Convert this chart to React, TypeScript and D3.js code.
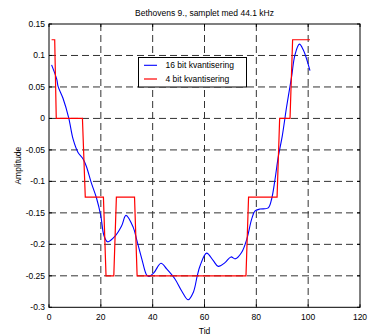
import React from "react";
import * as d3 from "d3";

const title = "Bethovens 9., samplet med 44.1 kHz";
const xLabel = "Tid";
const yLabel = "Amplitude";
const seriesNames = ["16 bit kvantisering", "4 bit kvantisering"];

const xTicks = [0, 20, 40, 60, 80, 100, 120];
const yTicks = [0.15, 0.1, 0.05, 0, -0.05, -0.1, -0.15, -0.2, -0.25, -0.3];
const yTickLabels = ["0.15", "0.1", "0.05", "0", "-0.05", "-0.1", "-0.15", "-0.2", "-0.25", "-0.3"];

// 16 bit signal
const blueX = [1, 3, 3.5, 5.4, 7.6, 9.3, 11.2, 13.1, 14.4, 16.3, 18.3, 20, 21.2, 22.6, 25.5, 28, 29.7, 32.5, 33.8, 35.8, 37.7, 38.6, 40.5, 43.2, 45.4, 48.6, 51.2, 53.7, 55.7, 57.2, 58.3, 60.8, 63.4, 65.3, 67.9, 70.2, 71.9, 74.3, 76.3, 78.2, 79.5, 81.4, 84.6, 85.9, 87.2, 88.5, 90, 91.7, 93.6, 94.9, 96.6, 98.1, 100.7];
const blueY = [0.085, 0.062, 0.051, 0.032, 0.001, -0.033, -0.054, -0.064, -0.076, -0.102, -0.126, -0.155, -0.186, -0.196, -0.187, -0.171, -0.154, -0.173, -0.192, -0.223, -0.249, -0.251, -0.245, -0.23, -0.239, -0.255, -0.274, -0.288, -0.276, -0.25, -0.234, -0.214, -0.226, -0.235, -0.229, -0.22, -0.223, -0.213, -0.192, -0.16, -0.147, -0.144, -0.142, -0.128, -0.097, -0.06, -0.028, 0.019, 0.066, 0.101, 0.118, 0.109, 0.076];

// 4 bit quantized signal
const redX = [1, 2.2, 2.8, 12.9, 14, 21, 22, 25, 26, 33, 34, 76, 77, 88, 89, 93, 94, 100.7];
const redY = [0.125, 0.125, 0, 0, -0.125, -0.125, -0.25, -0.25, -0.125, -0.125, -0.25, -0.25, -0.125, -0.125, 0, 0, 0.125, 0.125];

const W = 368;
const H = 334;
const L = 49, R = 360, T = 24, B = 307.3;
const font = "'Liberation Sans', Arial, Helvetica, sans-serif";
const fs = 8.5;

export default function App() {
  const x = d3.scaleLinear().domain([0, 120]).range([L, R]);
  const y = d3.scaleLinear().domain([-0.3, 0.15]).range([B, T]);

  const blue = blueX.map((v, i) => [v, blueY[i]] as [number, number]);
  const red = redX.map((v, i) => [v, redY[i]] as [number, number]);

  const smooth = d3.line<[number, number]>().x(d => x(d[0])).y(d => y(d[1])).curve(d3.curveCatmullRom.alpha(0.5));
  const straight = d3.line<[number, number]>().x(d => x(d[0])).y(d => y(d[1]));

  const grid = "#333";
  const dash = "7,4";
  const tl = 3;

  return (
    <svg width={W} height={H} style={{ position: "absolute", left: 0, top: 0, background: "#fff" }} fontFamily={font}>
      <rect x={0} y={0} width={W} height={H} fill="#fff" />
      {/* grid */}
      {xTicks.filter(t => t > 0 && t < 120).map(t => (
        <line key={"gx" + t} x1={x(t)} x2={x(t)} y1={T} y2={B} stroke={grid} strokeDasharray={dash} strokeWidth={1} />
      ))}
      {yTicks.filter(t => t < 0.15 && t > -0.3).map(t => (
        <line key={"gy" + t} x1={L} x2={R} y1={y(t)} y2={y(t)} stroke={grid} strokeDasharray={dash} strokeWidth={1} />
      ))}
      {/* data */}
      <path d={smooth(blue) || ""} fill="none" stroke="#0000ff" strokeWidth={1.1} />
      <path d={straight(red) || ""} fill="none" stroke="#ff0000" strokeWidth={1.2} />
      {/* axes box */}
      <rect x={L} y={T} width={R - L} height={B - T} fill="none" stroke="#000" strokeWidth={1} />
      {xTicks.map(t => (
        <g key={"tx" + t}>
          <line x1={x(t)} x2={x(t)} y1={B} y2={B - tl} stroke="#000" />
          <line x1={x(t)} x2={x(t)} y1={T} y2={T + tl} stroke="#000" />
          <text x={x(t)} y={320} fontSize={fs} textAnchor="middle" fill="#000">{t}</text>
        </g>
      ))}
      {yTicks.map((t, i) => (
        <g key={"ty" + t}>
          <line x1={L} x2={L + tl} y1={y(t)} y2={y(t)} stroke="#000" />
          <line x1={R} x2={R - tl} y1={y(t)} y2={y(t)} stroke="#000" />
          <text x={45} y={y(t) + 3} fontSize={fs} textAnchor="end" fill="#000">{yTickLabels[i]}</text>
        </g>
      ))}
      {/* labels */}
      <text x={(L + R) / 2} y={16} fontSize={fs} textAnchor="middle" fill="#000">{title}</text>
      <text x={(L + R) / 2} y={333.5} fontSize={fs} textAnchor="middle" fill="#000">{xLabel}</text>
      <text transform={`translate(20.5,${(T + B) / 2}) rotate(-90)`} fontSize={fs} textAnchor="middle" fill="#000">{yLabel}</text>
      {/* legend */}
      <rect x={138.5} y={57.5} width={108} height={29.5} fill="#fff" stroke="#000" strokeWidth={1} />
      <line x1={144} x2={157} y1={65.3} y2={65.3} stroke="#0000ff" strokeWidth={1.1} />
      <line x1={144} x2={157} y1={79} y2={79} stroke="#ff0000" strokeWidth={1.2} />
      <text x={165.5} y={68.3} fontSize={fs} fill="#000">{seriesNames[0]}</text>
      <text x={165.5} y={82} fontSize={fs} fill="#000">{seriesNames[1]}</text>
    </svg>
  );
}
